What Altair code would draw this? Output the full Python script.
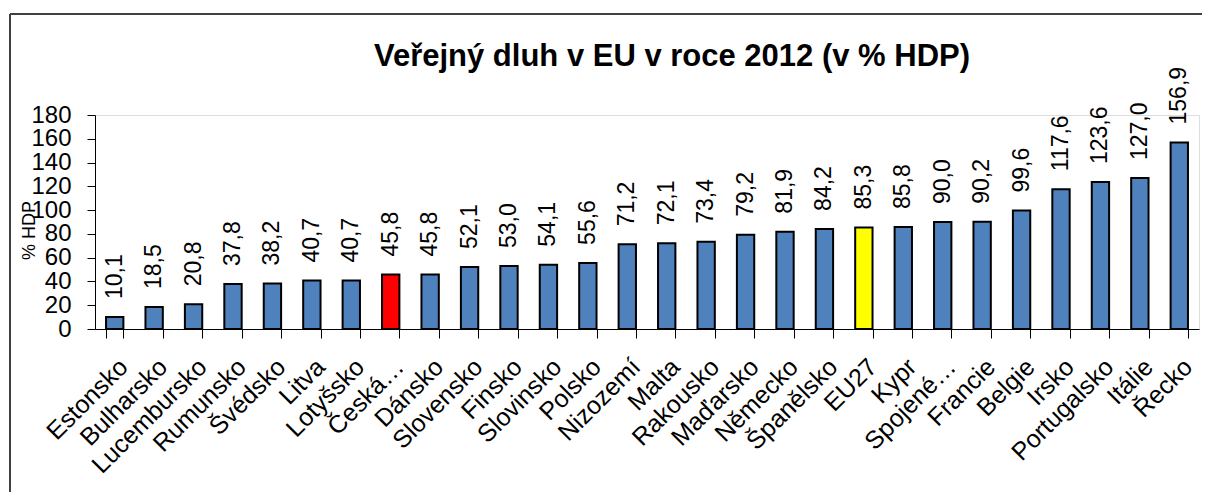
import altair as alt
import pandas as pd

countries = ["Estonsko", "Bulharsko", "Lucembursko", "Rumunsko", "Švédsko", "Litva",
             "Lotyšsko", "Česká…", "Dánsko", "Slovensko", "Finsko", "Slovinsko",
             "Polsko", "Nizozemí", "Malta", "Rakousko", "Maďarsko", "Německo",
             "Španělsko", "EU27", "Kypr", "Spojené…", "Francie", "Belgie", "Irsko",
             "Portugalsko", "Itálie", "Řecko"]
values = [10.1, 18.5, 20.8, 37.8, 38.2, 40.7, 40.7, 45.8, 45.8, 52.1, 53.0, 54.1,
          55.6, 71.2, 72.1, 73.4, 79.2, 81.9, 84.2, 85.3, 85.8, 90.0, 90.2, 99.6,
          117.6, 123.6, 127.0, 156.9]
y_ticks = [0, 20, 40, 60, 80, 100, 120, 140, 160, 180]

df = pd.DataFrame({"country": countries, "value": values})

FONT = "Liberation Sans"

x = alt.X("country:N", sort=None, title=None,
          scale=alt.Scale(paddingInner=0.56, paddingOuter=0.28),
          axis=alt.Axis(labelAngle=-45, labelFontSize=25, labelFont=FONT,
                        labelColor="black", domainColor="black", tickColor="black",
                        tickSize=9, tickBand="extent", labelPadding=16,
                        labelLimit=300, labelOverlap=False, domainWidth=1, tickWidth=1))
y = alt.Y("value:Q", title="% HDP",
          scale=alt.Scale(domain=[0, 180], nice=False),
          axis=alt.Axis(values=y_ticks, grid=False, labelFontSize=24, labelFont=FONT,
                        labelColor="black", domainColor="black", tickColor="black",
                        tickSize=8, labelPadding=16, labelOverlap=False, labelBound=False,
                        labelFlush=False,
                        titleFont=FONT, titleFontSize=18,
                        titleFontWeight="normal", titleColor="black",
                        titleX=-57, titleY=115, titleAngle=270))

color = (alt.when(alt.datum.country == "Česká…").then(alt.value("#FF0000"))
         .when(alt.datum.country == "EU27").then(alt.value("#FFFF00"))
         .otherwise(alt.value("#4F81BD")))

bars = alt.Chart(df).mark_bar(stroke="black", strokeWidth=2).encode(x=x, y=y, color=color)

labels = alt.Chart(df).transform_calculate(
    label="replace(format(datum.value, '.1f'), '.', ',')"
).mark_text(angle=270, align="left", baseline="middle", dx=18, fontSize=23,
            font=FONT, color="black").encode(x=x, y=y, text="label:N")

border_top = alt.Chart(alt.Data(values=[{}])).mark_rule(color="#404040", strokeWidth=2).encode(
    x=alt.value(-85), x2=alt.value(1120), y=alt.value(-101))
border_left = alt.Chart(alt.Data(values=[{}])).mark_rule(color="#404040", strokeWidth=2).encode(
    x=alt.value(-85), y=alt.value(-101), y2=alt.value(400))

chart = alt.layer(bars, labels, border_top, border_left).properties(
    width=1104, height=214,
    title=alt.TitleParams("Veřejný dluh v EU v roce 2012 (v % HDP)", font=FONT,
                          fontSize=31, fontWeight="bold", color="black",
                          anchor="middle", baseline="alphabetic", dx=25, dy=84, offset=0),
    autosize=alt.AutoSizeParams(type="none"),
    padding={"left": 87, "top": 107, "right": 3, "bottom": 163},
).configure_view(stroke=None).configure(background="white")

chart.save("out.html", embed_options={"renderer": "svg", "actions": False})
